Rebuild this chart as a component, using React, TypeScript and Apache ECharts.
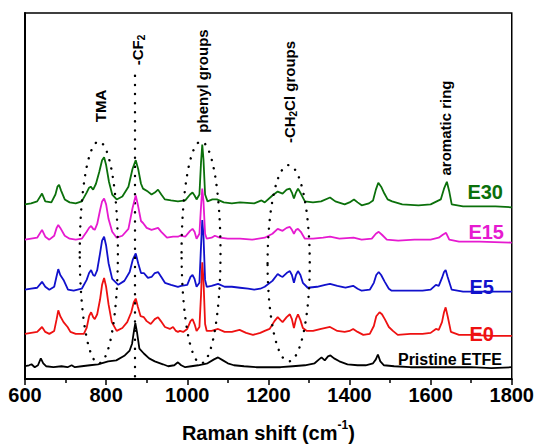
import React, { useEffect, useRef } from "react";
import * as echarts from "echarts";

// Raman shift (cm-1) vs intensity (offset, arbitrary units)
const pristineETFE: [number, number][] = [
  [600, 13], [610, 14], [616, 15], [624, 12], [632, 14], [639, 21], [645, 16], [652, 13], [670, 12], [690, 13],
  [705, 12], [715, 14], [723, 12], [740, 13], [760, 14], [780, 15], [805, 18], [825, 19], [846, 24], [858, 29],
  [864, 36], [869, 50], [872, 57], [876, 48], [882, 31], [893, 26], [906, 21], [920, 18], [940, 15], [953, 13],
  [968, 14], [977, 17], [985, 14], [995, 12], [1010, 13], [1027, 14], [1050, 16], [1066, 20], [1076, 22], [1088, 19],
  [1100, 16], [1115, 14], [1140, 13], [1170, 12], [1200, 12], [1230, 12], [1260, 13], [1290, 14], [1314, 16], [1325, 20],
  [1331, 22], [1339, 19], [1347, 23], [1353, 24], [1362, 21], [1375, 18], [1395, 15], [1420, 14], [1440, 14], [1458, 16],
  [1465, 20], [1470, 25], [1476, 18], [1485, 14], [1510, 13], [1550, 12], [1600, 12], [1650, 12], [1700, 12], [1750, 11],
  [1800, 12],
];

const e0: [number, number][] = [
  [600, 46], [615, 47], [630, 48], [642, 53], [650, 48], [660, 46], [672, 49], [678, 61], [682, 70], [687, 64],
  [695, 58], [705, 53], [712, 48], [725, 46], [745, 46], [752, 52], [758, 64], [763, 68], [768, 63], [772, 61],
  [778, 66], [785, 81], [790, 96], [795, 103], [800, 94], [806, 76], [814, 58], [826, 49], [840, 52], [852, 58],
  [862, 68], [868, 78], [873, 82], [878, 74], [885, 64], [893, 63], [900, 59], [910, 56], [920, 61], [928, 63],
  [935, 59], [945, 53], [957, 51], [965, 53], [972, 49], [977, 48], [982, 49], [990, 48], [1000, 51], [1008, 59],
  [1013, 61], [1018, 56], [1023, 49], [1030, 53], [1034, 86], [1037, 119], [1040, 101], [1044, 56], [1048, 49], [1060, 49],
  [1076, 51], [1092, 48], [1110, 48], [1129, 50], [1145, 47], [1162, 45], [1180, 47], [1191, 49], [1203, 51], [1215, 59],
  [1223, 63], [1230, 60], [1235, 58], [1245, 63], [1253, 66], [1258, 61], [1263, 52], [1268, 61], [1273, 66], [1279, 60],
  [1285, 52], [1295, 49], [1310, 49], [1330, 51], [1352, 53], [1370, 49], [1388, 48], [1400, 49], [1409, 51], [1420, 48],
  [1434, 45], [1450, 46], [1460, 54], [1466, 64], [1474, 68], [1480, 66], [1487, 61], [1497, 53], [1507, 49], [1519, 45],
  [1550, 46], [1580, 46], [1600, 47], [1613, 51], [1620, 50], [1628, 58], [1633, 68], [1637, 73], [1642, 64], [1650, 48],
  [1670, 45], [1700, 45], [1750, 44], [1800, 44],
];

const e5: [number, number][] = [
  [600, 91], [615, 92], [630, 93], [642, 99], [650, 94], [660, 91], [672, 94], [678, 105], [682, 112], [687, 106],
  [695, 101], [706, 91], [720, 90], [740, 92], [752, 101], [758, 108], [763, 111], [768, 106], [772, 105], [778, 111],
  [785, 128], [790, 141], [795, 145], [800, 136], [806, 118], [815, 102], [830, 96], [845, 100], [858, 109], [866, 122],
  [873, 128], [879, 118], [886, 108], [893, 108], [903, 103], [912, 104], [920, 108], [928, 109], [936, 104], [945, 98],
  [960, 96], [977, 94], [985, 95], [1000, 96], [1008, 104], [1013, 106], [1018, 102], [1023, 94], [1030, 98], [1034, 136],
  [1037, 162], [1040, 146], [1044, 101], [1048, 94], [1060, 95], [1076, 97], [1092, 94], [1110, 94], [1130, 93], [1150, 92],
  [1165, 91], [1180, 92], [1191, 94], [1210, 100], [1223, 107], [1230, 105], [1235, 104], [1245, 108], [1253, 110], [1258, 106],
  [1263, 98], [1268, 106], [1273, 110], [1279, 106], [1285, 98], [1297, 93], [1320, 94], [1340, 96], [1352, 97], [1370, 95],
  [1390, 93], [1409, 95], [1420, 92], [1430, 90], [1450, 91], [1460, 98], [1466, 106], [1472, 109], [1478, 106], [1487, 99],
  [1497, 92], [1504, 90], [1540, 90], [1580, 90], [1600, 91], [1613, 96], [1620, 95], [1628, 103], [1633, 109], [1637, 111],
  [1642, 104], [1652, 91], [1680, 89], [1720, 89], [1760, 89], [1800, 89],
];

const e15: [number, number][] = [
  [600, 142], [615, 143], [630, 144], [642, 152], [650, 145], [660, 142], [672, 146], [678, 154], [682, 157], [687, 154],
  [698, 146], [710, 143], [725, 142], [740, 143], [752, 150], [758, 154], [763, 156], [768, 153], [772, 152], [778, 158],
  [785, 172], [790, 181], [795, 184], [800, 178], [806, 163], [815, 150], [826, 144], [840, 146], [855, 153], [865, 174],
  [873, 187], [879, 176], [886, 161], [891, 159], [900, 154], [912, 152], [920, 153], [928, 154], [936, 150], [950, 144],
  [965, 145], [977, 145], [982, 146], [995, 145], [1007, 151], [1013, 153], [1018, 150], [1023, 143], [1030, 148], [1034, 176],
  [1037, 194], [1040, 181], [1044, 148], [1048, 143], [1060, 144], [1068, 146], [1080, 144], [1100, 143], [1130, 143], [1160, 142],
  [1191, 144], [1210, 148], [1223, 153], [1235, 151], [1245, 154], [1253, 155], [1258, 152], [1263, 148], [1268, 152], [1273, 153],
  [1280, 150], [1290, 143], [1310, 143], [1335, 144], [1352, 145], [1375, 143], [1410, 144], [1430, 142], [1455, 143], [1465, 148],
  [1472, 150], [1480, 147], [1492, 142], [1520, 141], [1560, 142], [1600, 142], [1620, 144], [1630, 147], [1638, 149], [1646, 142],
  [1670, 140], [1720, 140], [1800, 139],
];

const e30: [number, number][] = [
  [600, 178], [615, 179], [630, 181], [642, 189], [650, 181], [665, 180], [675, 188], [680, 196], [684, 198], [689, 192],
  [698, 183], [710, 180], [725, 179], [740, 181], [752, 190], [758, 195], [762, 196], [768, 193], [775, 199], [783, 211],
  [790, 223], [795, 226], [800, 218], [807, 201], [815, 188], [826, 183], [840, 186], [855, 196], [865, 214], [873, 223],
  [879, 214], [886, 199], [891, 194], [903, 191], [912, 188], [920, 190], [928, 193], [936, 188], [945, 183], [960, 182],
  [977, 181], [995, 182], [1007, 188], [1013, 190], [1018, 187], [1023, 183], [1030, 188], [1034, 221], [1037, 239], [1040, 224],
  [1044, 188], [1050, 181], [1062, 183], [1073, 183], [1090, 180], [1110, 179], [1130, 180], [1165, 179], [1183, 182], [1191, 180],
  [1210, 187], [1223, 191], [1235, 189], [1245, 193], [1253, 194], [1258, 190], [1263, 184], [1268, 190], [1273, 194], [1280, 189],
  [1290, 181], [1310, 180], [1330, 181], [1352, 185], [1365, 181], [1388, 178], [1400, 180], [1411, 183], [1420, 180], [1430, 177],
  [1448, 179], [1458, 182], [1465, 193], [1471, 200], [1478, 196], [1486, 189], [1494, 183], [1505, 181], [1530, 178], [1570, 177],
  [1600, 178], [1615, 181], [1625, 183], [1633, 194], [1640, 201], [1646, 191], [1652, 178], [1680, 176], [1720, 176], [1760, 176],
  [1800, 175],
];

const seriesNames = ["Pristine ETFE", "E0", "E5", "E15", "E30"];
const seriesData = [pristineETFE, e0, e5, e15, e30];
const seriesColors = ["#000000", "#ee1111", "#1111cc", "#e61ad0", "#0b700b"];

const X_MIN = 600;
const X_MAX = 1800;
const X_INTERVAL = 200;
const Y_MIN = 0;
const Y_MAX = 373;

// CF2 dotted marker position (wavenumber) and its top (intensity)
const cf2Line = { w: 871, top: 309 };
// dotted ellipses in data units: centre (w, v), radii (rw, rv)
const groupEllipses = [
  { w: 782, v: 129, rw: 47, rv: 113 },
  { w: 1034, v: 129, rw: 48, rv: 113 },
  { w: 1250, v: 118, rw: 52, rv: 100 },
];

const FONT = "'Liberation Sans', Arial, Helvetica, sans-serif";

export default function App() {
  const ref = useRef<HTMLDivElement>(null);

  useEffect(() => {
    document.body.style.margin = "0";
    if (!ref.current) return;
    const chart = echarts.init(ref.current, undefined, { renderer: "svg" });

    const series: any[] = seriesData.map((d, i) => ({
      name: seriesNames[i],
      type: "line",
      data: d,
      showSymbol: false,
      symbol: "none",
      lineStyle: { width: 1.8, color: seriesColors[i] },
      itemStyle: { color: seriesColors[i] },
      z: 2 + i,
      silent: true,
    }));

    series[0].markLine = {
      silent: true,
      symbol: ["none", "none"],
      label: { show: false },
      lineStyle: { color: "#000", width: 2.4, type: [0.1, 9], cap: "round" },
      data: [[{ coord: [cf2Line.w, cf2Line.top] }, { coord: [cf2Line.w, Y_MIN] }]],
    };

    chart.setOption({
      animation: false,
      grid: {
        left: 25,
        right: 25,
        top: 13,
        bottom: 62,
        show: true,
        borderColor: "#000",
        borderWidth: 1.5,
        backgroundColor: "transparent",
      },
      xAxis: {
        type: "value",
        min: X_MIN,
        max: X_MAX,
        interval: X_INTERVAL,
        name: "{a|Raman shift (cm}{b|-1}{a|)}",
        nameLocation: "middle",
        nameGap: 40,
        nameTextStyle: {
          rich: {
            a: { fontSize: 20, fontWeight: "bold", fontFamily: FONT, color: "#000", lineHeight: 24, verticalAlign: "bottom" },
            b: { fontSize: 12, fontWeight: "bold", fontFamily: FONT, color: "#000", lineHeight: 24, verticalAlign: "top" },
          },
        },
        axisLine: { show: true, lineStyle: { color: "#000", width: 2 } },
        axisTick: { show: true, inside: false, length: 6, lineStyle: { color: "#000", width: 1.5 } },
        minorTick: { show: true, splitNumber: 2, length: 4, lineStyle: { color: "#000", width: 1.5 } },
        splitLine: { show: false },
        axisLabel: {
          fontSize: 20,
          fontWeight: "bold",
          fontFamily: FONT,
          color: "#000",
          margin: 6,
          formatter: (v: number) => String(v),
        },
      },
      yAxis: {
        type: "value",
        min: Y_MIN,
        max: Y_MAX,
        axisLine: { show: true, lineStyle: { color: "#000", width: 2 } },
        axisTick: { show: false },
        axisLabel: { show: false },
        splitLine: { show: false },
      },
      series,
    });

    const ellipses = groupEllipses.map((e) => {
      const c = chart.convertToPixel({ gridIndex: 0 }, [e.w, e.v]) as number[];
      const r = chart.convertToPixel({ gridIndex: 0 }, [e.w + e.rw, e.v + e.rv]) as number[];
      return {
        type: "ellipse",
        silent: true,
        z: 20,
        shape: { cx: c[0], cy: c[1], rx: Math.abs(r[0] - c[0]), ry: Math.abs(c[1] - r[1]) },
        style: { fill: "none", stroke: "#000", lineWidth: 2.4, lineDash: [0.1, 8.5], lineCap: "round" },
      };
    });

    // positive rotation = counterclockwise: text reads bottom-to-top
    const rot = (x: number, y: number, text: string, rich?: any) => ({
      type: "text",
      x,
      y,
      rotation: Math.PI / 2,
      silent: true,
      z: 20,
      style: {
        text,
        fontSize: 15,
        fontWeight: "bold",
        fontFamily: FONT,
        fill: "#000",
        align: "center",
        verticalAlign: "middle",
        rich,
      },
    });

    const subRich = {
      a: { fontSize: 15, fontWeight: "bold", fontFamily: FONT, fill: "#000", lineHeight: 18, verticalAlign: "middle" },
      s: { fontSize: 10, fontWeight: "bold", fontFamily: FONT, fill: "#000", lineHeight: 18, verticalAlign: "bottom", padding: [6, 0, 0, 0] },
    };

    const seriesLabel = (x: number, y: number, text: string, color: string, size: number) => ({
      type: "text",
      x,
      y,
      silent: true,
      z: 20,
      style: {
        text,
        fontSize: size,
        fontWeight: "bold",
        fontFamily: FONT,
        fill: color,
        align: "right",
        verticalAlign: "middle",
      },
    });

    chart.setOption({
      graphic: [
        ...ellipses,
        rot(100, 106, "TMA"),
        rot(137, 50, "{a|-CF}{s|2}", subRich),
        rot(202, 81, "phenyl groups"),
        rot(289, 92, "{a|-CH}{s|2}{a|Cl groups}", subRich),
        rot(445, 128, "aromatic ring"),
        seriesLabel(503, 192, "E30", seriesColors[4], 20),
        seriesLabel(504, 232, "E15", seriesColors[3], 20),
        seriesLabel(494, 287, "E5", seriesColors[2], 20),
        seriesLabel(494, 334, "E0", seriesColors[1], 20),
        seriesLabel(502, 359, "Pristine ETFE", seriesColors[0], 16),
      ],
    });

    return () => chart.dispose();
  }, []);

  return <div ref={ref} style={{ width: 537, height: 448 }} />;
}
